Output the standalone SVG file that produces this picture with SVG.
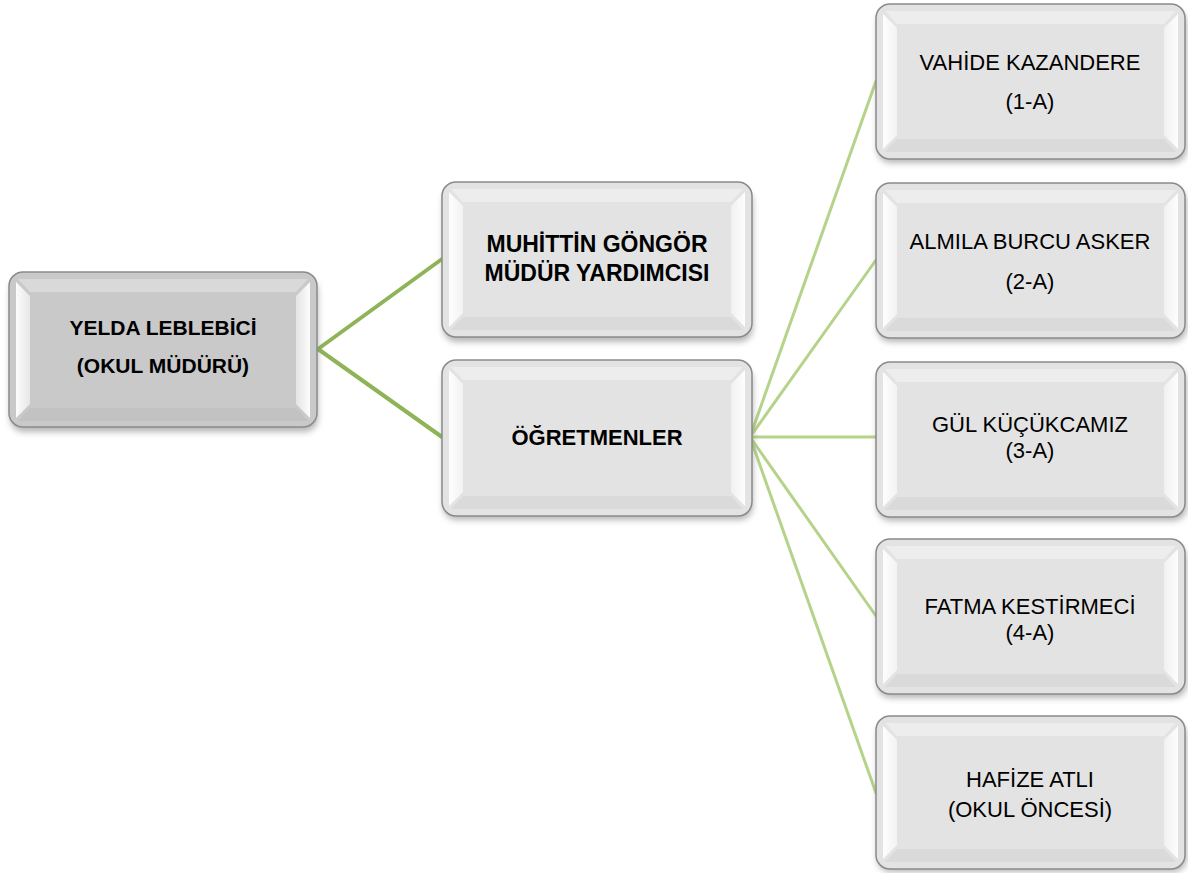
<svg xmlns="http://www.w3.org/2000/svg" width="1188" height="873" viewBox="0 0 1188 873">
<defs>
<filter id="sh" x="-10%" y="-10%" width="120%" height="130%">
<feGaussianBlur stdDeviation="3"/>
</filter>
<linearGradient id="lb" x1="0" y1="0" x2="1" y2="0">
<stop offset="0" stop-color="#ffffff" stop-opacity="0.95"/>
<stop offset="1" stop-color="#ffffff" stop-opacity="0.55"/>
</linearGradient>
<linearGradient id="rb" x1="0" y1="0" x2="1" y2="0">
<stop offset="0" stop-color="#ffffff" stop-opacity="0.5"/>
<stop offset="1" stop-color="#ffffff" stop-opacity="0.95"/>
</linearGradient>
</defs>
<style>
.box{stroke:#8a8a8a;stroke-width:1.5}
.lite{fill:#e3e3e3}
.dark{fill:#c9c9c9}
.tb{font-family:"Liberation Sans",Arial,sans-serif;font-weight:bold;font-size:21px;fill:#000;text-anchor:middle}
.tr{font-family:"Liberation Sans",Arial,sans-serif;font-size:22px;fill:#000;text-anchor:middle}
.c1{stroke:#8fb457;stroke-width:4;fill:none;stroke-linecap:round}
.c2{stroke:#b6d38a;stroke-width:3;fill:none;stroke-linecap:round}
</style>

<g id="connectors">
<path class="c1" d="M318 349 L442 259"/>
<path class="c1" d="M318 349 L442 437"/>
<path class="c2" d="M750 437 L876 81"/>
<path class="c2" d="M750 437 L876 260"/>
<path class="c2" d="M750 437 L876 437"/>
<path class="c2" d="M750 437 L876 616"/>
<path class="c2" d="M750 437 L876 793"/>
</g>

<g id="n-root">
<rect x="10" y="278" width="308" height="154" rx="14" fill="#6e6e6e" opacity="0.5" filter="url(#sh)"/>
<rect class="box dark" x="9" y="272" width="308" height="155" rx="14"/>
<polygon points="16,282 30,296 30,404 16,418" fill="url(#lb)"/>
<polygon points="310,282 296,296 296,404 310,418" fill="url(#rb)"/>
<polygon points="18,279 308,279 296,292 30,292" fill="#ffffff" opacity="0.3"/>
<polygon points="18,421 308,421 296,408 30,408" fill="#9a9a9a" opacity="0.15"/>
<text class="tb" x="163" y="335">YELDA LEBLEBİCİ</text>
<text class="tb" x="163" y="373">(OKUL MÜDÜRÜ)</text>
</g>

<g id="n-muhittin">
<rect x="443" y="189" width="310" height="153" rx="14" fill="#6e6e6e" opacity="0.5" filter="url(#sh)"/>
<rect class="box lite" x="442" y="182" width="310" height="155" rx="14"/>
<polygon points="449,192 463,206 463,313 449,327" fill="url(#lb)"/>
<polygon points="745,192 731,206 731,313 745,327" fill="url(#rb)"/>
<polygon points="451,189 743,189 731,202 463,202" fill="#ffffff" opacity="0.35"/>
<polygon points="451,330 743,330 731,317 463,317" fill="#a8a8a8" opacity="0.15"/>
<text class="tb" x="597" y="252" style="font-size:23px">MUHİTTİN GÖNGÖR</text>
<text class="tb" x="597" y="281" style="font-size:23px">MÜDÜR YARDIMCISI</text>
</g>

<g id="n-ogretmenler">
<rect x="443" y="367" width="310" height="153" rx="14" fill="#6e6e6e" opacity="0.5" filter="url(#sh)"/>
<rect class="box lite" x="442" y="360" width="310" height="156" rx="14"/>
<polygon points="449,370 463,384 463,492 449,506" fill="url(#lb)"/>
<polygon points="745,370 731,384 731,492 745,506" fill="url(#rb)"/>
<polygon points="451,367 743,367 731,380 463,380" fill="#ffffff" opacity="0.35"/>
<polygon points="451,509 743,509 731,496 463,496" fill="#a8a8a8" opacity="0.15"/>
<text class="tb" x="597" y="445" style="font-size:22px">ÖĞRETMENLER</text>
</g>

<g id="n-vahide">
<rect x="877" y="10" width="310" height="153" rx="14" fill="#6e6e6e" opacity="0.5" filter="url(#sh)"/>
<rect class="box lite" x="876" y="4" width="309" height="155" rx="14"/>
<polygon points="883,14 897,28 897,135 883,149" fill="url(#lb)"/>
<polygon points="1178,14 1164,28 1164,135 1178,149" fill="url(#rb)"/>
<polygon points="885,11 1176,11 1164,24 897,24" fill="#ffffff" opacity="0.35"/>
<polygon points="885,152 1176,152 1164,139 897,139" fill="#a8a8a8" opacity="0.15"/>
<text class="tr" x="1030" y="70">VAHİDE KAZANDERE</text>
<text class="tr" x="1030" y="109">(1-A)</text>
</g>

<g id="n-almila">
<rect x="877" y="189" width="310" height="153" rx="14" fill="#6e6e6e" opacity="0.5" filter="url(#sh)"/>
<rect class="box lite" x="876" y="183" width="309" height="155" rx="14"/>
<polygon points="883,193 897,207 897,314 883,328" fill="url(#lb)"/>
<polygon points="1178,193 1164,207 1164,314 1178,328" fill="url(#rb)"/>
<polygon points="885,190 1176,190 1164,203 897,203" fill="#ffffff" opacity="0.35"/>
<polygon points="885,331 1176,331 1164,318 897,318" fill="#a8a8a8" opacity="0.15"/>
<text class="tr" x="1030" y="249">ALMILA BURCU ASKER</text>
<text class="tr" x="1030" y="289">(2-A)</text>
</g>

<g id="n-gul">
<rect x="877" y="368" width="310" height="153" rx="14" fill="#6e6e6e" opacity="0.5" filter="url(#sh)"/>
<rect class="box lite" x="876" y="362" width="309" height="155" rx="14"/>
<polygon points="883,372 897,386 897,493 883,507" fill="url(#lb)"/>
<polygon points="1178,372 1164,386 1164,493 1178,507" fill="url(#rb)"/>
<polygon points="885,369 1176,369 1164,382 897,382" fill="#ffffff" opacity="0.35"/>
<polygon points="885,510 1176,510 1164,497 897,497" fill="#a8a8a8" opacity="0.15"/>
<text class="tr" x="1030" y="432">GÜL KÜÇÜKCAMIZ</text>
<text class="tr" x="1030" y="458">(3-A)</text>
</g>

<g id="n-fatma">
<rect x="877" y="545" width="310" height="153" rx="14" fill="#6e6e6e" opacity="0.5" filter="url(#sh)"/>
<rect class="box lite" x="876" y="539" width="309" height="155" rx="14"/>
<polygon points="883,549 897,563 897,670 883,684" fill="url(#lb)"/>
<polygon points="1178,549 1164,563 1164,670 1178,684" fill="url(#rb)"/>
<polygon points="885,546 1176,546 1164,559 897,559" fill="#ffffff" opacity="0.35"/>
<polygon points="885,687 1176,687 1164,674 897,674" fill="#a8a8a8" opacity="0.15"/>
<text class="tr" x="1030" y="614">FATMA KESTİRMECİ</text>
<text class="tr" x="1030" y="640">(4-A)</text>
</g>

<g id="n-hafize">
<rect x="877" y="722" width="310" height="150" rx="14" fill="#6e6e6e" opacity="0.5" filter="url(#sh)"/>
<rect class="box lite" x="876" y="716" width="309" height="153" rx="14"/>
<polygon points="883,726 897,740 897,845 883,859" fill="url(#lb)"/>
<polygon points="1178,726 1164,740 1164,845 1178,859" fill="url(#rb)"/>
<polygon points="885,723 1176,723 1164,736 897,736" fill="#ffffff" opacity="0.35"/>
<polygon points="885,862 1176,862 1164,849 897,849" fill="#a8a8a8" opacity="0.15"/>
<text class="tr" x="1030" y="787">HAFİZE ATLI</text>
<text class="tr" x="1030" y="817">(OKUL ÖNCESİ)</text>
</g>
</svg>
